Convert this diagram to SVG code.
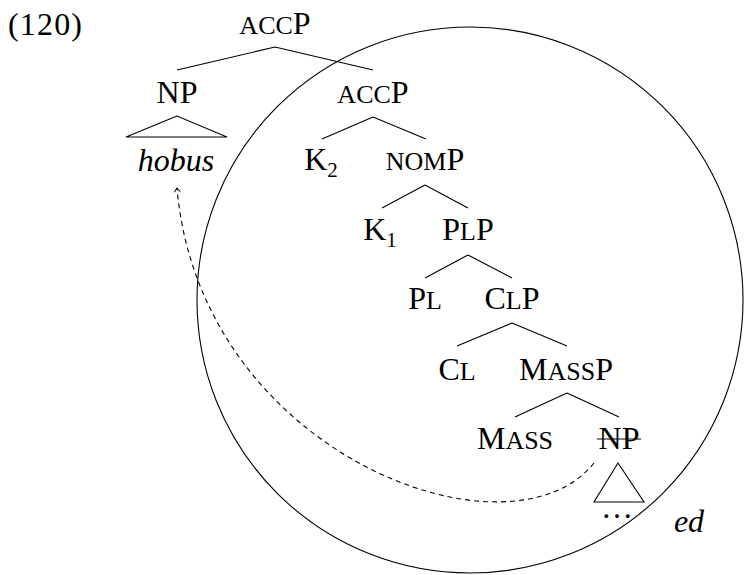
<svg xmlns="http://www.w3.org/2000/svg" width="744" height="575" viewBox="0 0 744 575">
<style>
text{font-family:"Liberation Serif","Times New Roman",serif;font-size:32px;fill:#000;text-anchor:middle}
.sc{font-size:26px}
.it{font-style:italic}
.sub{font-size:21px}
.e{fill:none;stroke:#000;stroke-width:1.1}
.mv{fill:none;stroke:#000;stroke-width:1.1;stroke-dasharray:5,4}
</style>
<defs>
<marker id="ah" markerUnits="userSpaceOnUse" markerWidth="12" markerHeight="12" refX="0" refY="0" viewBox="-6 -6 12 12" orient="auto">
<path d="M-4,-3 L0,0 L-4,3" fill="none" stroke="#000" stroke-width="1"/>
</marker>
</defs>
<rect width="744" height="575" fill="#fff"/>
<text x="8" y="35" style="text-anchor:start" textLength="74" id="exnum">(120)</text>
<circle cx="470" cy="300" r="273" class="e"/>
<g id="connectors">
<path class="e" d="M275,47 L177,70 M275,47 L373,70"/>
<path class="e" d="M177,116 L126,137 L227,137 Z"/>
<path class="e" d="M373,117 L322,139 M373,117 L426,139"/>
<path class="e" d="M425,185 L382,208 M425,185 L468,208"/>
<path class="e" d="M468,255 L425,278 M468,255 L512,278"/>
<path class="e" d="M512,323 L457,346 M512,323 L567,346"/>
<path class="e" d="M567,393 L515,417 M567,393 L619,417"/>
<path class="e" d="M618,463 L594,502 L644,502 Z"/>
<path class="mv" d="M594,463 C510,568 200,455 177,188" marker-end="url(#ah)"/>
</g>
<g id="n-accp-top"><text x="275" y="34"><tspan class="sc">ACC</tspan>P</text></g>
<g id="n-np"><text x="177" y="103">NP</text></g>
<g id="n-hobus"><text x="176" y="171" class="it">hobus</text></g>
<g id="n-accp"><text x="373" y="103"><tspan class="sc">ACC</tspan>P</text></g>
<g id="n-k2"><text x="321" y="170">K<tspan class="sub" dy="7">2</tspan></text></g>
<g id="n-nomp"><text x="425" y="170"><tspan class="sc">NOM</tspan>P</text></g>
<g id="n-k1"><text x="380" y="240">K<tspan class="sub" dy="7">1</tspan></text></g>
<g id="n-plp"><text x="468" y="240">P<tspan class="sc">L</tspan>P</text></g>
<g id="n-pl"><text x="425" y="309">P<tspan class="sc">L</tspan></text></g>
<g id="n-clp"><text x="512" y="309">C<tspan class="sc">L</tspan>P</text></g>
<g id="n-cl"><text x="457" y="380">C<tspan class="sc">L</tspan></text></g>
<g id="n-massp"><text x="566" y="380">M<tspan class="sc">ASS</tspan>P</text></g>
<g id="n-mass"><text x="515" y="449">M<tspan class="sc">ASS</tspan></text></g>
<g id="n-np-low"><text x="619" y="449">NP</text><line x1="597" y1="439" x2="641" y2="439" stroke="#000" stroke-width="1.1"/></g>
<g id="n-dots"><text x="617" y="518">…</text></g>
<g id="n-ed"><text x="689" y="532" class="it">ed</text></g>
</svg>
